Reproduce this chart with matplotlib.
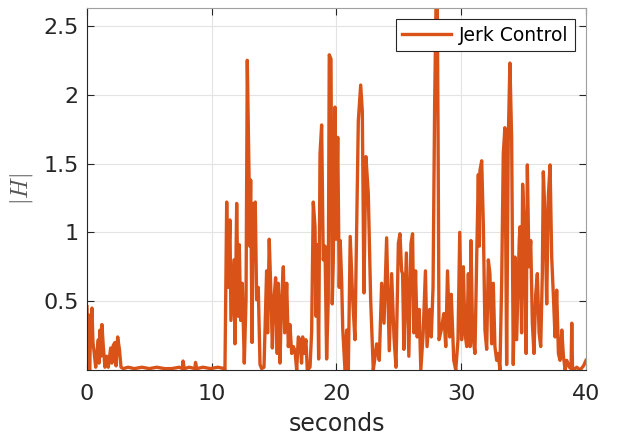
import matplotlib
matplotlib.use("Agg")
import matplotlib.pyplot as plt

plt.rcParams['font.family'] = ['DejaVu Sans']
plt.rcParams['mathtext.fontset'] = 'cm'

series_label = "Jerk Control"
x_label = "seconds"
y_label = r"$|H|$"
x_ticks = [0, 10, 20, 30, 40]
y_ticks = [0.5, 1, 1.5, 2, 2.5]

t_early = [0.0, 0.07, 0.13, 0.21, 0.30, 0.40, 0.48, 0.56, 0.70, 0.80, 0.91, 0.97, 1.04, 1.12,
           1.20, 1.31, 1.44, 1.58, 1.71, 1.90, 2.0, 2.11, 2.25, 2.33, 2.46, 2.60, 2.73, 2.91]
h_early = [0.46, 0.10, 0.40, 0.0, 0.30, 0.45, 0.20, 0.14, 0.02, 0.12, 0.22, 0.05, 0.29, 0.10,
           0.33, 0.17, 0.02, 0.10, 0.02, 0.16, 0.05, 0.18, 0.20, 0.03, 0.24, 0.15, 0.02, 0.01]

t_quiet = [3.3, 3.8, 4.4, 5.0, 5.6, 6.2, 6.8, 7.4, 7.65, 7.7, 7.8, 8.2, 8.65, 8.7, 8.8,
           9.3, 9.9, 10.5, 11.0]
h_quiet = [0.02, 0.01, 0.02, 0.01, 0.02, 0.01, 0.01, 0.02, 0.01, 0.065, 0.01, 0.02, 0.01,
           0.055, 0.01, 0.02, 0.01, 0.02, 0.01]

t_mid = [11.06, 11.2, 11.3, 11.46, 11.54, 11.78, 11.86, 12.0, 12.13, 12.21, 12.32, 12.45, 12.61,
         12.75, 12.85, 12.99, 13.05, 13.12, 13.23, 13.33, 13.42, 13.49, 13.6, 13.73, 13.87, 14.0,
         14.19, 14.4, 14.48, 14.61, 14.75, 14.86, 14.99, 15.12, 15.25, 15.33, 15.47, 15.6, 15.74,
         15.85, 16.01, 16.14, 16.27, 16.41, 16.54, 16.67, 16.81, 16.94, 17.07, 17.2, 17.29, 17.39,
         17.55, 17.66, 17.88, 18.01, 18.14, 18.28, 18.36, 18.46, 18.57, 18.68, 18.81, 18.94, 19.08,
         19.21, 19.34, 19.42, 19.56, 19.66, 19.74, 19.88, 19.97, 20.1, 20.22, 20.3, 20.42, 20.5,
         20.68, 20.82, 20.95, 21.1, 21.3, 21.48, 21.62, 21.75, 21.94, 22.07, 22.2, 22.36, 22.55,
         22.74, 22.95, 23.1, 23.22, 23.43, 23.62, 23.81, 24.02, 24.23, 24.42, 24.61, 24.77, 24.96,
         25.09, 25.22]
h_mid = [0.0, 1.22, 0.60, 1.09, 0.36, 0.80, 0.19, 1.21, 0.39, 0.91, 0.36, 0.63, 0.05,
         0.51, 2.25, 1.42, 0.90, 1.38, 0.20, 1.21, 0.80, 1.22, 0.51, 0.60, 0.04, 0.01,
         0.02, 0.72, 0.27, 0.95, 0.54, 0.16, 0.51, 0.67, 0.12, 0.63, 0.05, 0.51, 0.75,
         0.27, 0.63, 0.17, 0.33, 0.12, 0.17, 0.14, 0.0, 0.24, 0.22, 0.05, 0.24, 0.12,
         0.22, 0.0, 0.02, 0.28, 1.22, 1.04, 0.39, 0.91, 0.08, 1.57, 1.78, 0.80, 0.90,
         0.08, 0.51, 2.29, 2.26, 0.48, 0.78, 1.91, 0.95, 1.69, 0.60, 0.94, 0.63, 0.30,
         0.0, 0.29, 0.0, 0.97, 0.51, 0.22, 1.04, 1.81, 2.07, 1.88, 0.56, 1.55, 1.28,
         0.51, 0.0, 0.10, 0.19, 0.07, 0.63, 0.34, 0.96, 0.14, 0.70, 0.24, 0.02, 0.92,
         0.99, 0.72]

t_late = [25.3, 25.4, 25.6, 25.8, 25.97, 26.1, 26.2, 26.34, 26.47, 26.63, 26.76, 26.95, 27.13,
          27.26, 27.47, 27.6, 27.74, 27.87, 28.0, 28.07, 28.14, 28.22, 28.4, 28.6, 28.76, 28.9,
          29.07, 29.2, 29.4, 29.56, 29.74, 29.88, 30.03, 30.17, 30.3, 30.44, 30.57, 30.7, 30.78,
          30.91, 31.1, 31.24, 31.37, 31.45, 31.5, 31.64, 31.77, 31.9, 32.04, 32.17, 32.3, 32.44,
          32.57, 32.7, 32.84, 32.97, 33.1, 33.24, 33.37, 33.5, 33.64, 33.77, 33.9, 34.04, 34.17,
          34.31, 34.44, 34.65, 34.71, 34.84, 34.92, 35.03, 35.2, 35.3, 35.43, 35.57, 35.7, 35.83,
          35.97, 36.1, 36.24, 36.37, 36.5, 36.58, 36.71, 36.85, 36.98, 37.12, 37.25, 37.38, 37.52,
          37.65, 37.79, 37.92, 38.06, 38.19, 38.33, 38.46, 38.67, 38.8, 38.86, 38.92, 39.0, 39.26,
          39.53, 39.8, 40.0]
h_late = [0.70, 0.15, 0.85, 0.10, 0.92, 0.99, 0.27, 0.72, 0.24, 0.44, 0.0, 0.27, 0.72,
          0.17, 0.44, 0.24, 0.60, 1.95, 2.80, 2.80, 1.76, 0.22, 0.29, 0.41, 0.17, 0.72,
          0.24, 0.55, 0.07, 0.0, 0.22, 1.0, 0.22, 0.75, 0.27, 0.17, 0.70, 0.17, 0.94,
          0.27, 0.12, 0.82, 1.42, 0.90, 1.45, 1.52, 1.06, 0.29, 0.15, 0.80, 0.70, 0.19,
          0.63, 0.17, 0.07, 0.12, 0.0, 0.63, 1.57, 1.76, 0.04, 1.67, 2.23, 1.69, 0.04,
          0.82, 0.22, 0.94, 1.04, 0.27, 1.35, 1.09, 0.12, 1.49, 0.75, 0.94, 0.34, 0.12,
          0.55, 0.70, 0.27, 0.17, 0.70, 1.44, 1.13, 0.48, 1.26, 1.49, 0.82, 0.55, 0.24,
          0.58, 0.12, 0.07, 0.29, 0.10, 0.0, 0.07, 0.02, 0.01, 0.34, 0.01, 0.0, 0.02,
          0.0, 0.03, 0.07]

t = t_early + t_quiet + t_mid + t_late
h = h_early + h_quiet + h_mid + h_late

fig = plt.figure(figsize=(6.23, 4.44), dpi=100)
ax = fig.add_axes([0.1396, 0.1667, 0.801, 0.8153])

ax.plot(t, h, color='#D95319', linewidth=2.4, label=series_label)

ax.set_xlim(0, 40)
ax.set_ylim(0, 2.63)
ax.set_xticks(x_ticks)
ax.set_yticks(y_ticks)
ax.set_yticklabels(['0.5', '1', '1.5', '2', '2.5'])
ax.grid(True, color='#e3e3e3', linewidth=0.8)
ax.set_axisbelow(True)

edge = '#262626'
for s in ax.spines.values():
    s.set_color(edge)
    s.set_linewidth(0.8)
ax.spines['top'].set_color('#a0a0a0')
ax.spines['right'].set_color('#a0a0a0')
ax.tick_params(direction='in', top=True, right=True, length=5, width=0.8,
               colors=edge, labelsize=16)
ax.tick_params(axis='x', pad=10)
ax.tick_params(axis='y', pad=6)

ax.set_xlabel(x_label, fontsize=17, color=edge, labelpad=6)
ax.set_ylabel(y_label, fontsize=17, color='#555555', labelpad=6)

leg = ax.legend(loc='upper right', fontsize=13.5, frameon=True, fancybox=False,
                handlelength=2.6, borderaxespad=0.6, borderpad=0.35, handletextpad=0.4)
leg.get_frame().set_edgecolor('#262626')
leg.get_frame().set_linewidth(0.8)
leg.get_frame().set_alpha(1)

fig.savefig('out.png', dpi=100)
